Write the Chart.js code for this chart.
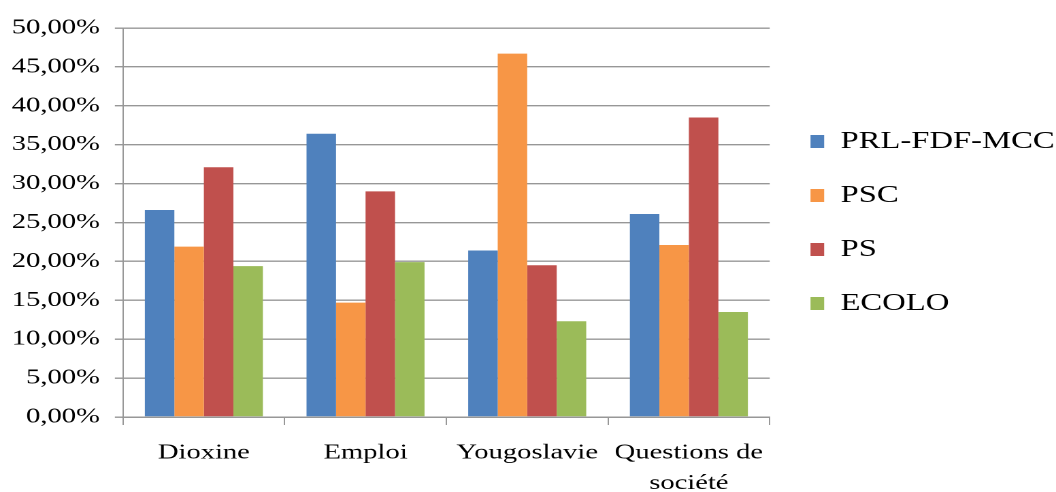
<!DOCTYPE html>
<html>
<head>
<meta charset="utf-8">
<script src="https://cdn.jsdelivr.net/npm/chart.js@4/dist/chart.umd.min.js"></script>
<style>
    html, body { margin: 0; padding: 0; background: #fff; overflow: hidden; }
</style>
</head>
<body>
<!-- the original picture is stretched horizontally, so the canvas is drawn narrow and shown wide -->
<canvas id="themesChart" width="776" height="492" style="width:1056px;height:492px;"></canvas>
<script>
const categories = ['Dioxine', 'Emploi', 'Yougoslavie', ['Questions de', 'société']];
const partyNames = ['PRL-FDF-MCC', 'PSC', 'PS', 'ECOLO'];
const prlValues = [26.6, 36.4, 21.4, 26.1];
const pscValues = [21.9, 14.7, 46.7, 22.1];
const psValues = [32.1, 29.0, 19.5, 38.5];
const ecoloValues = [19.4, 19.9, 12.3, 13.5];
const partyColors = ['#4F81BD', '#F79646', '#C0504D', '#9BBB59'];
const yTicks = [0, 5, 10, 15, 20, 25, 30, 35, 40, 45, 50];

document.addEventListener('DOMContentLoaded', function () {
    const canvas = document.getElementById('themesChart');
    const ctx = canvas.getContext('2d');
    const seriesValues = [prlValues, pscValues, psValues, ecoloValues];
    const gridGrey = '#979797';
    const serif = '"Liberation Serif", "Times New Roman", serif';

    new Chart(ctx, {
        type: 'bar',
        data: {
            labels: categories,
            datasets: partyNames.map(function (name, i) {
                return {
                    label: name,
                    data: seriesValues[i],
                    backgroundColor: partyColors[i],
                    borderWidth: 0,
                    categoryPercentage: 0.73,
                    barPercentage: 1.0
                };
            })
        },
        options: {
            responsive: false,
            animation: false,
            devicePixelRatio: 2,
            layout: {
                // legend text runs right up to the edge
                padding: { top: 28, left: 9, right: -9, bottom: 0 }
            },
            scales: {
                x: {
                    offset: true,
                    grid: {
                        display: true,
                        offset: true,
                        drawOnChartArea: false,
                        drawTicks: true,
                        tickLength: 8,
                        color: gridGrey,
                        lineWidth: 1
                    },
                    border: { display: true, color: gridGrey, width: 1.5 },
                    ticks: {
                        color: '#000',
                        padding: 13,
                        maxRotation: 0,
                        autoSkip: false,
                        font: { family: serif, size: 21, lineHeight: 1.45 }
                    },
                    afterFit: function (scale) {
                        scale.height = 75; // second line of the last label runs to the picture edge
                    }
                },
                y: {
                    min: 0,
                    max: 50,
                    afterBuildTicks: function (scale) {
                        scale.ticks = yTicks.map(function (v) { return { value: v }; });
                    },
                    afterFit: function (scale) {
                        scale.width = 81.4;
                    },
                    grid: {
                        color: gridGrey,
                        lineWidth: 1.4,
                        drawTicks: true,
                        tickLength: 6
                    },
                    border: { display: true, color: gridGrey, width: 1 },
                    ticks: {
                        color: '#000',
                        padding: 11,
                        font: { family: serif, size: 21 },
                        callback: function (value) {
                            return value.toFixed(2).replace('.', ',') + '%';
                        }
                    }
                }
            },
            plugins: {
                legend: {
                    display: true,
                    position: 'right',
                    fullSize: false,
                    maxWidth: 260,
                    labels: {
                        color: '#000',
                        boxWidth: 10,
                        boxHeight: 13,
                        padding: 30,
                        font: { family: serif, size: 24 }
                    }
                },
                tooltip: { enabled: false },
                title: { display: false }
            }
        }
    });
});
</script>
</body>
</html>
